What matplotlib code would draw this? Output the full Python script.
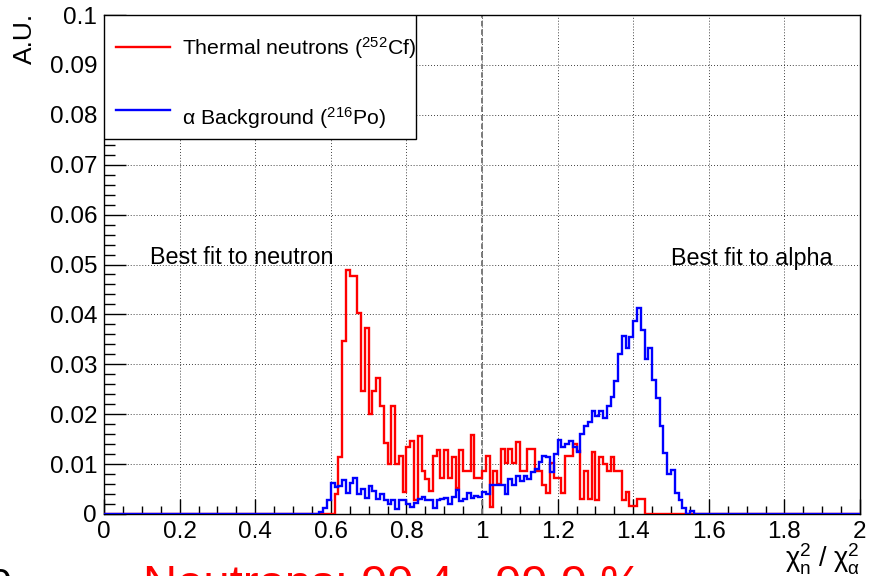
import numpy as np
import matplotlib
matplotlib.use('Agg')
import matplotlib.pyplot as plt
from matplotlib.ticker import MultipleLocator, FuncFormatter
from matplotlib.patches import Rectangle
from matplotlib.lines import Line2D

plt.rcParams['font.family'] = ['Liberation Sans', 'DejaVu Sans']
plt.rcParams['mathtext.fontset'] = 'custom'
plt.rcParams['mathtext.rm'] = 'Liberation Sans'
plt.rcParams['mathtext.it'] = 'Liberation Sans:italic'

# histogram binning: 200 bins of 0.01 over [0, 2]
bin_width = 0.01
n_bins = 200

# thermal neutrons (252Cf), first filled bin starts at 0.60
neutron_start = 0.60
neutron_counts = [
    0.0000, 0.0041, 0.0115, 0.0347, 0.0488, 0.0477, 0.0477, 0.0403, 0.0247, 0.0373,  # 0.60
    0.0200, 0.0247, 0.0273, 0.0217, 0.0143, 0.0101, 0.0217, 0.0101, 0.0117, 0.0045,  # 0.70
    0.0135, 0.0147, 0.0028, 0.0157, 0.0087, 0.0070, 0.0047, 0.0117, 0.0128, 0.0073,  # 0.80
    0.0128, 0.0073, 0.0115, 0.0053, 0.0128, 0.0087, 0.0087, 0.0158, 0.0073, 0.0073,  # 0.90
    0.0087, 0.0117, 0.0015, 0.0087, 0.0060, 0.0130, 0.0102, 0.0130, 0.0102, 0.0145,  # 1.00
    0.0087, 0.0087, 0.0130, 0.0130, 0.0087, 0.0087, 0.0059, 0.0043, 0.0102, 0.0073,  # 1.10
    0.0073, 0.0043, 0.0117, 0.0117, 0.0140, 0.0127, 0.0030, 0.0087, 0.0030, 0.0125,  # 1.20
    0.0028, 0.0115, 0.0100, 0.0087, 0.0115, 0.0087, 0.0087, 0.0028, 0.0045, 0.0016,  # 1.30
    0.0016, 0.0030, 0.0030,                                                          # 1.40
]

# alpha background (216Po), first filled bin starts at 0.57
alpha_start = 0.57
alpha_counts = [
    0.0005, 0.0012, 0.0028,                                                          # 0.57
    0.0063, 0.0055, 0.0057, 0.0069, 0.0043, 0.0063, 0.0072, 0.0040, 0.0050, 0.0032,  # 0.60
    0.0057, 0.0047, 0.0030, 0.0040, 0.0028, 0.0021, 0.0028, 0.0010, 0.0028, 0.0028,  # 0.70
    0.0021, 0.0015, 0.0023, 0.0030, 0.0035, 0.0028, 0.0028, 0.0013, 0.0028, 0.0031,  # 0.80
    0.0033, 0.0020, 0.0035, 0.0049, 0.0027, 0.0030, 0.0043, 0.0033, 0.0037, 0.0035,  # 0.90
    0.0045, 0.0040, 0.0059, 0.0059, 0.0059, 0.0059, 0.0040, 0.0070, 0.0059, 0.0077,  # 1.00
    0.0067, 0.0077, 0.0070, 0.0084, 0.0090, 0.0104, 0.0117, 0.0114, 0.0084, 0.0120,  # 1.10
    0.0148, 0.0134, 0.0140, 0.0147, 0.0134, 0.0124, 0.0161, 0.0177, 0.0184, 0.0206,  # 1.20
    0.0197, 0.0207, 0.0192, 0.0217, 0.0234, 0.0266, 0.0321, 0.0357, 0.0333, 0.0354,  # 1.30
    0.0386, 0.0413, 0.0369, 0.0311, 0.0333, 0.0269, 0.0232, 0.0177, 0.0122, 0.0080,  # 1.40
    0.0089, 0.0043, 0.0028, 0.0012, 0.0000, 0.0007,                                  # 1.50
]

labels = [r'Thermal neutrons ($\mathregular{^{252}}$Cf)',
          r'α Background ($\mathregular{^{216}}$Po)']
colors = ['#ff0000', '#0000ff']


def full_hist(start, counts):
    h = np.zeros(n_bins)
    i0 = int(round(start / bin_width))
    h[i0:i0 + len(counts)] = counts
    return h


edges = np.arange(n_bins + 1) * bin_width
h_n = full_hist(neutron_start, neutron_counts)
h_a = full_hist(alpha_start, alpha_counts)

W, H = 874, 576
fig = plt.figure(figsize=(W / 100, H / 100), dpi=100)
ax = fig.add_axes([104 / W, (H - 514) / H, 756 / W, 499 / H])

ax.stairs(h_n, edges, color=colors[0], lw=1.7, zorder=3)
ax.stairs(h_a, edges, color=colors[1], lw=1.7, zorder=4)

ax.set_xlim(0, 2)
ax.set_ylim(0, 0.1)

# dotted grid and the dashed separation line at ratio = 1
ax.grid(True, which='major', color='black', lw=0.6, ls=(0, (1, 2.5)), zorder=1)
ax.axvline(1.0, color='#7a7a7a', lw=1.4, ls=(0, (2.8, 1.6)), zorder=2)

ax.xaxis.set_major_locator(MultipleLocator(0.2))
ax.xaxis.set_minor_locator(MultipleLocator(0.05))
ax.yaxis.set_major_locator(MultipleLocator(0.01))
ax.yaxis.set_minor_locator(MultipleLocator(0.002))
fmt = FuncFormatter(lambda v, p: f"{round(v, 3):g}")
ax.xaxis.set_major_formatter(fmt)
ax.yaxis.set_major_formatter(fmt)

ax.tick_params(axis='x', which='major', direction='in', length=11, width=1, labelsize=17.5, pad=5)
ax.tick_params(axis='x', which='minor', direction='in', length=5.5, width=1)
ax.tick_params(axis='y', which='major', direction='in', length=16, width=1, labelsize=17.5, pad=5)
ax.tick_params(axis='y', which='minor', direction='in', length=8, width=1)
for s in ax.spines.values():
    s.set_linewidth(1.0)

# legend box
ax.add_patch(Rectangle((0, 0.7515), 0.4127, 0.2485, transform=ax.transAxes,
                       facecolor='white', edgecolor='black', lw=1.0, zorder=5))
for y_line, y_txt, lab, c in zip([0.936, 0.8096], [0.9198, 0.7796], labels, colors):
    ax.add_line(Line2D([0.0159, 0.0873], [y_line, y_line], transform=ax.transAxes,
                       color=c, lw=1.7, zorder=6))
    ax.text(0.103, y_txt, lab, transform=ax.transAxes, fontsize=15.3,
            va='baseline', ha='left', zorder=6)

ax.text(0.122, 0.05, 'Best fit to neutron', fontsize=16.8, va='baseline', ha='left', zorder=6)
ax.text(1.5, 0.05, 'Best fit to alpha', fontsize=16.8, va='baseline', ha='left', zorder=6)

fig.text(25 / W, 1 - 13 / H, 'A.U.', rotation=90, fontsize=19, ha='center', va='top')
fig.text(860 / W, 1 - 559 / H, r'$\mathregular{χ^{2}_{n}\ /\ χ^{2}_{α}}$',
         fontsize=19.5, ha='right', va='center')

fig.text(143 / W, 1 - 598 / H, 'Neutrons: 99.4 - 99.9 %', color='#ff0000',
         fontsize=34, ha='left', va='baseline')
fig.text(11 / W, 1 - 598 / H, '0', color='black', fontsize=30, ha='right', va='baseline')

fig.savefig('out.png', dpi=100)
